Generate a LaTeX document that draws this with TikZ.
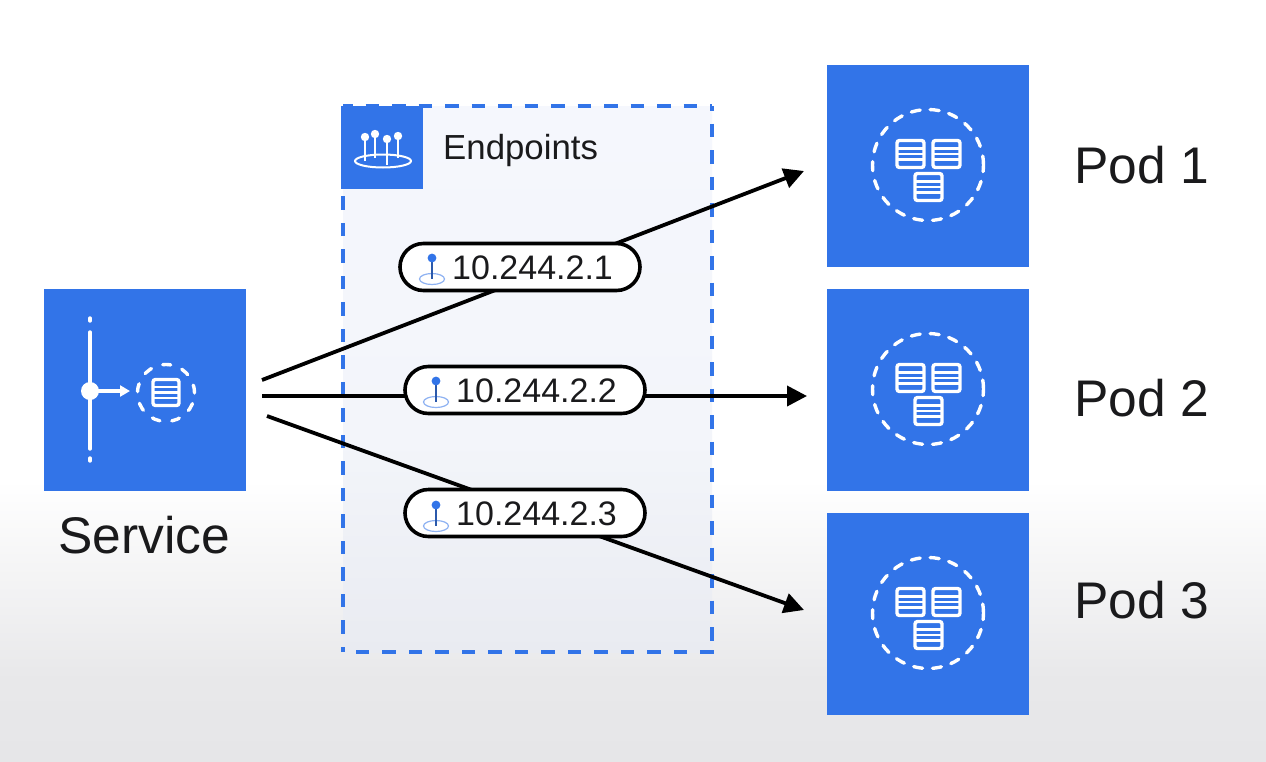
\documentclass[tikz,border=0pt]{standalone}
\usepackage{fontspec}
\setmainfont{Liberation Sans}
\usetikzlibrary{arrows.meta,shapes.misc}
\definecolor{gblue}{HTML}{3274E8}
\definecolor{ink}{HTML}{1A1A1C}
\definecolor{boxtop}{HTML}{F5F7FD}
\definecolor{boxmid}{HTML}{F3F5FA}
\definecolor{boxbot}{HTML}{E9EBF1}
\definecolor{bgmid}{HTML}{E8E8EA}
\definecolor{bgbot}{HTML}{E6E6E8}
\tikzset{
  tile/.style={fill=gblue,draw=none,minimum size=202pt,inner sep=0pt,anchor=north west},
  bigtext/.style={font=\fontsize{51.5}{54}\selectfont,text=ink,inner sep=0pt},
  pill/.style={draw=black,line width=3.6pt,rounded rectangle,fill=#1,minimum width=240pt,minimum height=47pt,inner sep=0pt},
  pill/.default=white,
  iptext/.style={font=\fontsize{34}{38}\selectfont,text=ink,inner sep=0pt,anchor=west},
  link/.style={draw=black,line width=3.8pt,-{Triangle[length=20pt,width=20pt]}},
  whiteline/.style={draw=white,line width=3.4pt,line cap=round},
  dashring/.style={draw=white,line width=3.4pt,dash pattern=on 9pt off 10pt,line cap=round},
  paneledge/.style={draw=gblue,line width=3.8pt},
}
% data sheet icon: centre at #1,#2 with half size #3
\newcommand{\sheeticon}[3]{%
  \draw[whiteline,rounded corners=2.5pt] (#1-#3,#2-#3) rectangle (#1+#3,#2+#3);
  \foreach \f in {-0.42,0,0.42}{\draw[white,line width=2.4pt] (#1-#3,#2+\f*#3) -- (#1+#3,#2+\f*#3);}%
}
\newcommand{\podicon}[2]{%
  \draw[dashring] (#1+1,#2) circle[radius=55.5pt];
  \sheeticon{#1-16.5}{#2-11}{13.5}
  \sheeticon{#1+19.5}{#2-11}{13.5}
  \sheeticon{#1+1.5}{#2+22}{13.5}
}
\newcommand{\pinicon}[2]{%
  \draw[gblue!55!white,line width=1.2pt,fill=white] (#1,#2+21) ellipse[x radius=12.5pt,y radius=5.5pt];
  \draw[gblue!70!ink,line width=2pt] (#1,#2+4) -- (#1,#2+21);
  \fill[gblue] (#1,#2) circle[radius=4.4pt];
}
\begin{document}
\begin{tikzpicture}[x=1pt,y=-1pt]
\useasboundingbox (0,0) rectangle (1266,761);
\fill[white] (0,0) rectangle (1266,761);
\shade[top color=white,bottom color=bgmid] (0,480) rectangle (1266,680);
\shade[top color=bgmid,bottom color=bgbot] (0,680) rectangle (1266,761);
% endpoints panel
\shade[top color=boxtop,bottom color=boxmid] (343,106) rectangle (712,440);
\shade[top color=boxmid,bottom color=boxbot] (343,440) rectangle (712,652);
\draw[paneledge,dash pattern=on 13.5pt off 13pt,dash phase=4pt] (343,106) -- (712,106);
\draw[paneledge,dash pattern=on 13.5pt off 13pt,dash phase=9pt] (712,106) -- (712,652);
\draw[paneledge,dash pattern=on 13.5pt off 13pt] (713.5,652) -- (343,652);
\draw[paneledge,dash pattern=on 13.5pt off 13pt,dash phase=8pt] (343,652) -- (343,106);
% tiles
\node[tile] (service) at (44,289) {};
\node[tile] (pod1) at (827,65) {};
\node[tile] (pod2) at (827,289) {};
\node[tile] (pod3) at (827,513) {};
\node[fill=gblue,minimum width=82pt,minimum height=83pt,inner sep=0pt,anchor=north west] (epicon) at (341,106) {};
% labels
\node[bigtext] (servicelabel) at (144,535) {Service};
\node[bigtext,anchor=west] (pod1label) at (1074,165) {Pod 1};
\node[bigtext,anchor=west] (pod2label) at (1074,398) {Pod 2};
\node[bigtext,anchor=west] (pod3label) at (1074,600) {Pod 3};
\node[font=\fontsize{34.8}{38}\selectfont,text=ink,inner sep=0pt,anchor=west] (eplabel) at (443,150) {Endpoints};
% connector ends
\coordinate (s1) at (262,380);
\coordinate (s2) at (262,396);
\coordinate (s3) at (267,416);
\coordinate (t1) at (804,171);
\coordinate (t2) at (807,396);
\coordinate (t3) at (804,610);
\draw[link] (s1) -- (t1);
\draw[link] (s2) -- (t2);
\draw[link] (s3) -- (t3);
% pills
\node[pill] (ip1) at (520,267) {};
\node[pill] (ip2) at (525,390) {};
\node[pill] (ip3) at (525,513) {};
\pinicon{432}{258}
\pinicon{436}{381}
\pinicon{436}{505}
\node[iptext] (ip1t) at (452,268) {10.244.2.1};
\node[iptext] (ip2t) at (456,391) {10.244.2.2};
\node[iptext] (ip3t) at (456,514) {10.244.2.3};
% service icon
\draw[whiteline] (90,318) -- (90,321);
\draw[whiteline] (90,332) -- (90,449);
\draw[whiteline] (90,458) -- (90,461);
\fill[white] (90,391) circle[radius=9pt];
\draw[white,line width=3.2pt,-{Triangle[length=10pt,width=11pt]}] (90,391) -- (130,391);
\draw[dashring,dash pattern=on 8pt off 12pt] (166,393) circle[radius=28.5pt];
\sheeticon{166}{392.5}{13}
% pods
\podicon{927}{165}
\podicon{927}{389}
\podicon{927}{613}
% endpoints icon
\draw[white,line width=2pt] (383,161) ellipse[x radius=28pt,y radius=6.5pt];
\foreach \x/\y/\e in {365/137/161,375/134/158,387/139/165,398/136/158}{
  \draw[white,line width=2pt] (\x,\y) -- (\x,\e);
  \fill[white] (\x,\y) circle[radius=4.2pt];
}
\end{tikzpicture}
\end{document}
